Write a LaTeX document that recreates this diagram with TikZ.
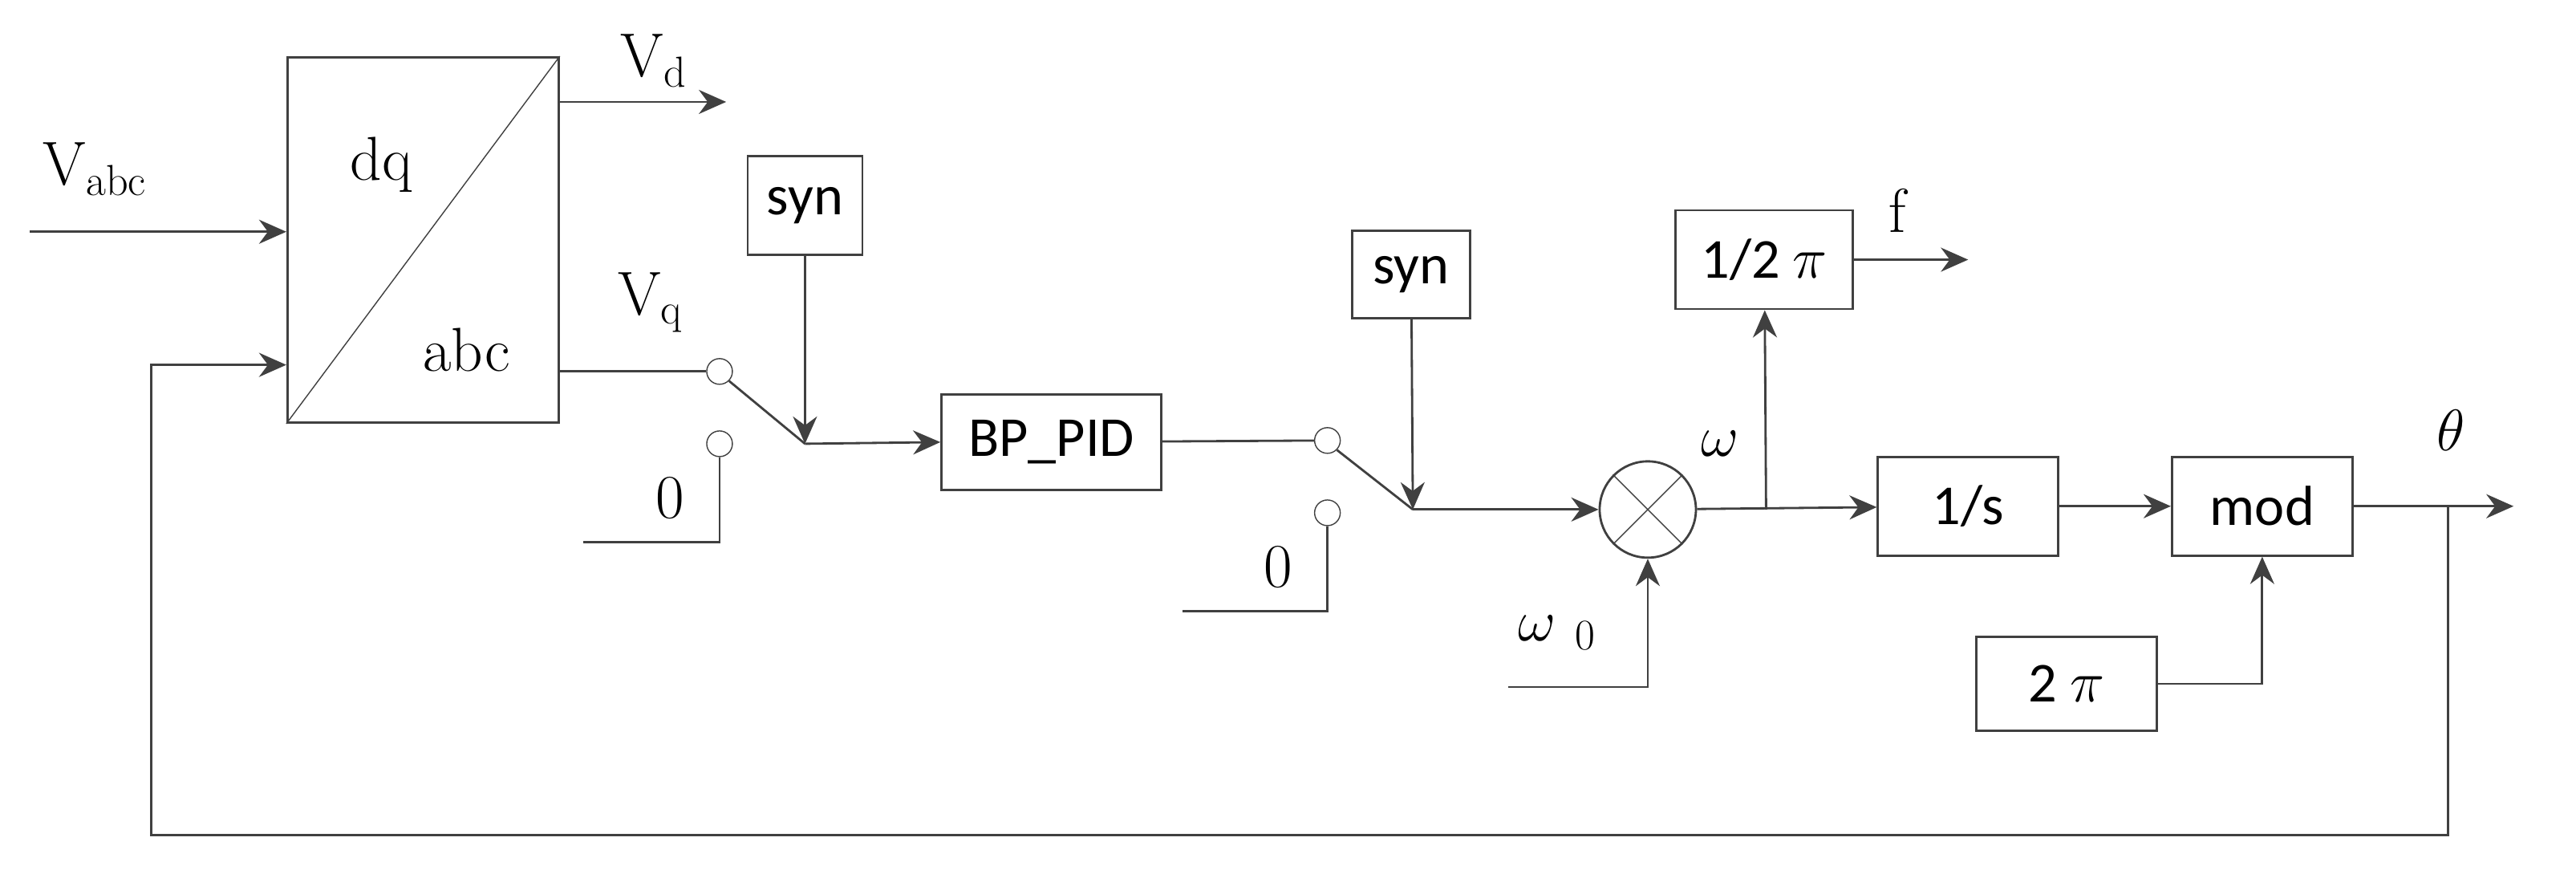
\documentclass[tikz,border=0pt]{standalone}
\usepackage{fontspec}
\setsansfont{Carlito}
\usetikzlibrary{arrows.meta,positioning}
\definecolor{lc}{HTML}{404040}
\tikzset{
  blk/.style={draw=lc, thick, font=\sffamily\fontsize{20}{20}\selectfont, inner sep=0pt},
  sw/.style={draw=lc, circle, minimum size=0.32cm, inner sep=0pt},
  lbl/.style={font=\fontsize{22}{22}\selectfont},
  sig/.style={draw=lc, thick, -{Stealth[length=0.34cm,width=0.3cm]}},
  wire/.style={draw=lc, thick}
}
\begin{document}
\begin{tikzpicture}[x=0.02048cm, y=-0.02048cm]
\useasboundingbox (0,0) rectangle (1568,529);
% blocks
\node[blk, minimum width=3.38cm, minimum height=4.55cm](dqabc) at (257.5,146) {};
\draw[lc] (dqabc.south west) -- (dqabc.north east);
\node[lbl] at (232,100) {dq};
\node[lbl] at (284,213) {abc};
\node[blk, minimum width=1.43cm, minimum height=1.23cm](syna) at (490,125) {syn};
\node[blk, minimum width=2.74cm, minimum height=1.19cm](pid) at (640,269) {BP\_PID};
\node[blk, minimum width=1.47cm, minimum height=1.09cm](synb) at (859,167) {syn};
\node[draw=lc, thick, circle, minimum size=1.2cm, inner sep=0pt](mul) at (1003,310) {};
\draw[lc] (mul.45) -- (mul.225) (mul.135) -- (mul.315);
\node[blk, minimum width=2.21cm, minimum height=1.23cm](half) at (1074,158) {1/2 {\rmfamily$\pi$}};
\node[blk, minimum width=2.25cm, minimum height=1.23cm](integ) at (1198,308) {1/s};
\node[blk, minimum width=2.25cm, minimum height=1.23cm](modb) at (1377,308) {mod};
\node[blk, minimum width=2.25cm, minimum height=1.17cm](twopi) at (1258,416) {2 {\rmfamily$\pi$}};
% switches
\node[sw](swa) at (438,226) {};
\node[sw](swa0) at (438,270) {};
\node[sw](swb) at (808,268) {};
\node[sw](swb0) at (808,312) {};
\coordinate (ja) at (490,270);
\coordinate (jb) at (860,310);
% signal labels
\node[lbl] at (58,103) {$\mathrm{V_{abc}}$};
\node[lbl] at (398,37) {$\mathrm{V_d}$};
\node[lbl] at (396,184) {$\mathrm{V_q}$};
\node[lbl] at (408,303) {0};
\node[lbl] at (778,345) {0};
\node[lbl] at (948,385) {$\omega$ $\mathrm{_0}$};
\node[lbl] at (1047,270) {$\omega$};
\node[lbl] at (1155,128) {f};
\node[lbl] at (1492,262) {$\theta$};
% connections
\coordinate (vin) at (18,141);
\path[sig] (vin) -- (vin -| dqabc.west);
\path[sig] (dqabc.east |- 0,62) -- (442,62);
\path[wire] (dqabc.east |- swa) -- (swa);
\path[wire] (swa.-45) -- (ja);
\path[sig] (syna) -- (ja);
\path[sig] (ja) -- (pid.west);
\path[wire] (swa0) |- (355,330);
\path[wire] (pid) -- (swb);
\path[wire] (swb.-45) -- (jb);
\path[sig] (synb) -- (jb);
\path[sig] (jb) -- (mul);
\path[wire] (swb0) |- (720,372);
\path[sig] (918,418) -| (mul.south);
\coordinate (br) at (1075,310);
\path[sig] (mul) -- (integ);
\path[sig] (br) -- (half);
\path[sig] (half) -- (1198,158);
\path[sig] (integ) -- (modb);
\path[sig] (twopi) -| (modb);
\coordinate (fb) at (1490,308);
\path[sig] (modb) -- (1530,308);
\path[sig] (fb) |- (92,508) |- (dqabc.west |- 0,222);
\end{tikzpicture}
\end{document}
